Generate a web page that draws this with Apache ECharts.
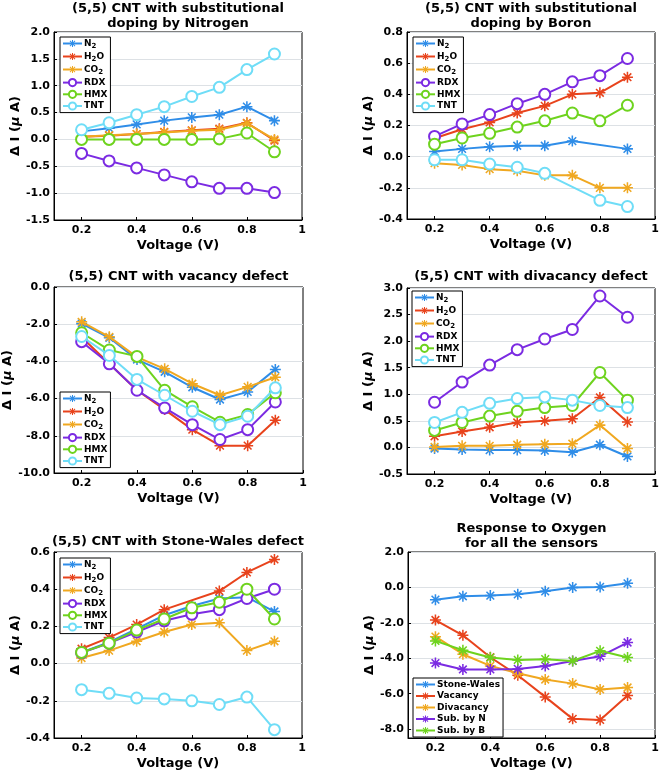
<!DOCTYPE html>
<html><head><meta charset="utf-8">
<script src="https://cdn.jsdelivr.net/npm/echarts@6/dist/echarts.min.js"></script>
<style>html,body{margin:0;padding:0;background:#fff}#c{width:662px;height:774px}</style>
</head><body><div id="c"></div>
<script>
// ---------- DATA ----------
const voltages = [0.2, 0.3, 0.4, 0.5, 0.6, 0.7, 0.8, 0.9];
const xTicks = [0.2, 0.4, 0.6, 0.8, 1];
const gasNames = ['N2', 'H2O', 'CO2', 'RDX', 'HMX', 'TNT'];
const oxygenNames = ['Stone-Wales', 'Vacancy', 'Divacancy', 'Sub. by N', 'Sub. by B'];

// (5,5) CNT substitutional doping by Nitrogen
const nitro_N2  = [0.15, 0.21, 0.28, 0.35, 0.41, 0.46, 0.61, 0.35];
const nitro_H2O = [0.05, 0.07, 0.10, 0.14, 0.17, 0.20, 0.31, -0.02];
const nitro_CO2 = [0.05, 0.08, 0.10, 0.13, 0.16, 0.18, 0.30, 0.00];
const nitro_RDX = [-0.26, -0.40, -0.53, -0.66, -0.79, -0.91, -0.91, -0.99];
const nitro_HMX = [0.00, 0.00, 0.00, 0.00, 0.00, 0.01, 0.12, -0.23];
const nitro_TNT = [0.18, 0.31, 0.46, 0.61, 0.80, 0.97, 1.30, 1.59];

// (5,5) CNT substitutional doping by Boron
const boron_N2  = [0.033, 0.05, 0.063, 0.07, 0.07, 0.10, null, 0.05];
const boron_H2O = [0.118, 0.176, 0.22, 0.28, 0.326, 0.40, 0.41, 0.51];
const boron_CO2 = [-0.042, -0.053, -0.08, -0.09, -0.12, -0.12, -0.20, -0.20];
const boron_RDX = [0.13, 0.21, 0.27, 0.34, 0.40, 0.48, 0.52, 0.63];
const boron_HMX = [0.08, 0.12, 0.15, 0.19, 0.23, 0.28, 0.23, 0.33];
const boron_TNT = [-0.02, -0.02, -0.047, -0.068, -0.107, null, -0.28, -0.32];

// (5,5) CNT with vacancy defect
const vac_N2  = [-1.97, -2.73, -3.90, -4.56, -5.39, -6.05, -5.64, -4.43];
const vac_H2O = [-2.70, -4.13, -5.55, -6.59, -7.67, -8.53, -8.53, -7.16];
const vac_CO2 = [-1.87, -2.68, -3.77, -4.40, -5.20, -5.82, -5.37, -4.85];
const vac_RDX = [-2.94, -4.13, -5.55, -6.50, -7.40, -8.20, -7.67, -6.18];
const vac_HMX = [-2.46, -3.39, -3.73, -5.55, -6.44, -7.27, -6.86, -5.69];
const vac_TNT = [-2.66, -3.68, -4.97, -5.82, -6.68, -7.40, -6.95, -5.42];

// (5,5) CNT with divacancy defect
const divac_N2  = [-0.02, -0.04, -0.05, -0.05, -0.06, -0.09, 0.05, -0.17];
const divac_H2O = [0.21, 0.30, 0.38, 0.47, 0.50, 0.54, 0.94, 0.48];
const divac_CO2 = [0.01, 0.03, 0.03, 0.05, 0.06, 0.07, 0.42, -0.02];
const divac_RDX = [0.85, 1.23, 1.55, 1.84, 2.04, 2.22, 2.85, 2.45];
const divac_HMX = [0.32, 0.47, 0.59, 0.68, 0.75, 0.79, 1.41, 0.89];
const divac_TNT = [0.47, 0.66, 0.83, 0.92, 0.95, 0.89, 0.79, 0.75];

// (5,5) CNT with Stone-Wales defect
const sw_N2  = [0.06, 0.115, 0.187, 0.26, 0.31, 0.35, 0.357, 0.28];
const sw_H2O = [0.08, 0.14, 0.21, 0.29, null, 0.39, 0.49, 0.56];
const sw_CO2 = [0.03, 0.07, 0.12, 0.17, 0.21, 0.22, 0.07, 0.12];
const sw_RDX = [0.058, 0.11, 0.17, 0.23, 0.265, 0.29, 0.35, 0.40];
const sw_HMX = [0.06, 0.11, 0.18, 0.24, 0.30, 0.33, 0.40, 0.24];
const sw_TNT = [-0.14, -0.16, -0.185, -0.19, -0.20, -0.22, -0.18, -0.355];

// Response to Oxygen for all the sensors
const oxy_StoneWales = [-0.69, -0.50, -0.46, -0.39, -0.22, 0.00, 0.03, 0.23];
const oxy_Vacancy    = [-1.84, -2.70, -3.94, -4.96, -6.18, -7.42, -7.48, -6.10];
const oxy_Divacancy  = [-2.78, -3.77, -4.43, -4.84, -5.20, -5.43, -5.76, -5.65];
const oxy_SubN       = [-4.27, -4.63, -4.63, -4.60, -4.43, -4.15, -3.89, -3.11];
const oxy_SubB       = [-3.02, -3.55, -3.96, -4.09, -4.05, -4.15, -3.58, -3.96];

// ---------- STYLE ----------
const C = {blue:'#2F8DE8', red:'#E8431C', yellow:'#F0A820', purple:'#7B2BE2', green:'#6ED31E', cyan:'#6FDDF7'};
const gasColors = [C.blue, C.red, C.yellow, C.purple, C.green, C.cyan];
const oxyColors = [C.blue, C.red, C.yellow, C.purple, C.green];
const STAR = 'path://M8.6 0L11.4 0L11.4 20L8.6 20Z M0 8.6L20 8.6L20 11.4L0 11.4Z M4 2L18 16L16 18L2 4Z M16 2L18 4L4 18L2 16Z';
const FONT = 'DejaVu Sans';

const panels = [
  {title:'(5,5) CNT with substitutional\ndoping by Nitrogen', grid:{left:54,top:32,width:248,height:188}, titleTop:1,
   ymin:-1.5, ymax:2, yt:[-1.5,-1,-0.5,0,0.5,1,1.5,2], names:gasNames, colors:gasColors,
   data:[nitro_N2,nitro_H2O,nitro_CO2,nitro_RDX,nitro_HMX,nitro_TNT], legend:{left:60,top:37}},
  {title:'(5,5) CNT with substitutional\ndoping by Boron', grid:{left:407,top:32,width:248,height:187}, titleTop:1,
   ymin:-0.4, ymax:0.8, yt:[-0.4,-0.2,0,0.2,0.4,0.6,0.8], names:gasNames, colors:gasColors,
   data:[boron_N2,boron_H2O,boron_CO2,boron_RDX,boron_HMX,boron_TNT], legend:{left:413,top:37}},
  {title:'(5,5) CNT with vacancy defect', grid:{left:54,top:287,width:249,height:186}, titleTop:269,
   ymin:-10, ymax:0, yt:[-10,-8,-6,-4,-2,0], names:gasNames, colors:gasColors,
   data:[vac_N2,vac_H2O,vac_CO2,vac_RDX,vac_HMX,vac_TNT], legend:{left:60,top:392}},
  {title:'(5,5) CNT with divacancy defect', grid:{left:407,top:288,width:248,height:186}, titleTop:269,
   ymin:-0.5, ymax:3, yt:[-0.5,0,0.5,1,1.5,2,2.5,3], names:gasNames, colors:gasColors,
   data:[divac_N2,divac_H2O,divac_CO2,divac_RDX,divac_HMX,divac_TNT], legend:{left:412,top:291}},
  {title:'(5,5) CNT with Stone-Wales defect', grid:{left:54,top:552,width:248,height:186}, titleTop:534,
   ymin:-0.4, ymax:0.6, yt:[-0.4,-0.2,0,0.2,0.4,0.6], names:gasNames, colors:gasColors,
   data:[sw_N2,sw_H2O,sw_CO2,sw_RDX,sw_HMX,sw_TNT], legend:{left:60,top:558}},
  {title:'Response to Oxygen\nfor all the sensors', grid:{left:408,top:552,width:247,height:186}, titleTop:521,
   ymin:-8.5, ymax:2, yt:[-8,-6,-4,-2,0,2], names:oxygenNames, colors:oxyColors,
   data:[oxy_StoneWales,oxy_Vacancy,oxy_Divacancy,oxy_SubN,oxy_SubB], legend:{left:413,top:678}, allStars:true}
];

const subMap = {'N2':'N{sub|2}', 'H2O':'H{sub|2}O', 'CO2':'CO{sub|2}'};

const option = {animation:false, backgroundColor:'#fff', title:[], grid:[], xAxis:[], yAxis:[], legend:[], series:[]};

panels.forEach((p, gi) => {
  option.grid.push(Object.assign({show:true, borderColor:'#000', borderWidth:1, backgroundColor:'#fff', containLabel:false}, p.grid));
  option.title.push({text:p.title, left:p.grid.left + p.grid.width/2, top:p.titleTop, textAlign:'center', padding:0,
    textStyle:{fontFamily:FONT, fontWeight:'bold', fontSize:13, lineHeight:15, color:'#000'}});
  option.xAxis.push({type:'value', gridIndex:gi, min:0.1, max:1,
    name:'Voltage (V)', nameLocation:'middle', nameGap:19,
    nameTextStyle:{fontFamily:FONT, fontWeight:'bold', fontSize:13, color:'#000'},
    axisLine:{show:true, onZero:false, lineStyle:{color:'#000', width:1}},
    axisTick:{show:true, inside:true, length:3, customValues:xTicks, lineStyle:{color:'#000'}},
    axisLabel:{customValues:xTicks, margin:5, fontFamily:FONT, fontWeight:'bold', fontSize:11, color:'#000',
      formatter:v => (Math.abs(v-1)<1e-9 ? '1' : v.toFixed(1))},
    splitLine:{show:false}});
  option.yAxis.push({type:'value', gridIndex:gi, min:p.ymin, max:p.ymax,
    name:'Δ I ({it|μ} A)', nameLocation:'middle', nameGap:32, nameRotate:90,
    nameTextStyle:{fontFamily:FONT, fontWeight:'bold', fontSize:13, color:'#000',
      rich:{it:{fontFamily:FONT, fontStyle:'italic', fontWeight:'bold', fontSize:13, color:'#000'}}},
    axisLine:{show:true, onZero:false, lineStyle:{color:'#000', width:1}},
    axisTick:{show:true, inside:true, length:3, customValues:p.yt, lineStyle:{color:'#000'}},
    axisLabel:{customValues:p.yt, margin:4, fontFamily:FONT, fontWeight:'bold', fontSize:11, color:'#000',
      formatter:v => v.toFixed(1)},
    splitLine:{show:true, lineStyle:{color:'#DDE1E5', width:1}}});
  const legendNames = [];
  p.names.forEach((nm, si) => {
    const isStar = p.allStars || si < 3;
    const col = p.colors[si];
    legendNames.push(nm);
    option.series.push({
      type:'line', name:nm, xAxisIndex:gi, yAxisIndex:gi,
      data: voltages.map((v, i) => [v, p.data[si][i]]),
      connectNulls:true,
      symbol: isStar ? STAR : 'emptyCircle',
      symbolSize: 11,
      showAllSymbol:true,
      lineStyle:{color:col, width:2},
      itemStyle: isStar ? {color:col, borderWidth:0} : {color:col, borderColor:col, borderWidth:1.6},
      z: 2 + si
    });
  });
  option.legend.push({
    data:legendNames, orient:'vertical', left:p.legend.left, top:p.legend.top,
    backgroundColor:'#fff', borderColor:'#000', borderWidth:1, padding:[2,3,2,2],
    itemGap:2.5, itemWidth:19, itemHeight:9, selectedMode:false,
    formatter: n => subMap[n] || n,
    textStyle:{fontFamily:FONT, fontWeight:'bold', fontSize:9, color:'#000', padding:[0,0,0,-3],
      rich:{sub:{fontFamily:FONT, fontWeight:'bold', fontSize:7, color:'#000', padding:[5,0,0,0]}}}
  });
});

const chart = echarts.init(document.getElementById('c'), null, {renderer:'canvas'});
chart.setOption(option);
</script>
</body></html>
